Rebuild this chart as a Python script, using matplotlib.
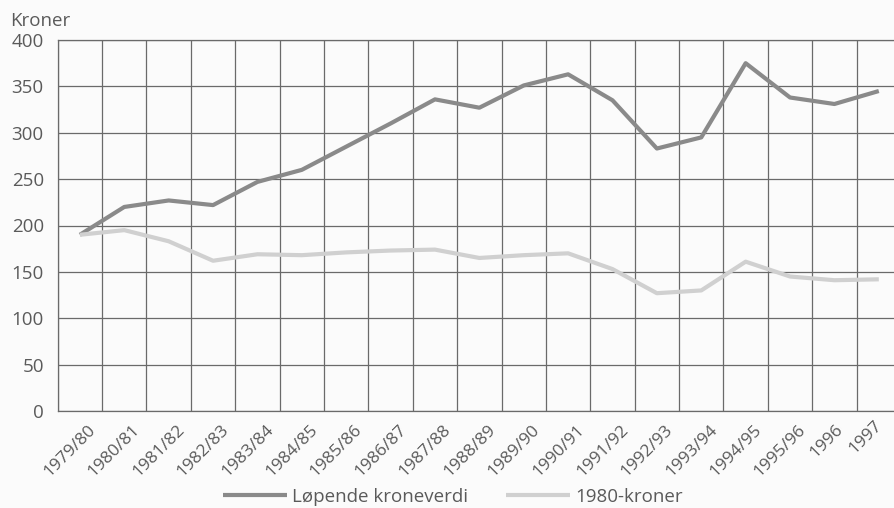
import matplotlib
matplotlib.use("Agg")
import matplotlib.pyplot as plt
import matplotlib.transforms as mtransforms

plt.rcParams['font.family'] = ['Open Sans', 'DejaVu Sans']

years = ['1979/80', '1980/81', '1981/82', '1982/83', '1983/84', '1984/85',
         '1985/86', '1986/87', '1987/88', '1988/89', '1989/90', '1990/91',
         '1991/92', '1992/93', '1993/94', '1994/95', '1995/96', '1996', '1997']
lopende = [190, 220, 227, 222, 247, 260, 285, 310, 336, 327, 351, 363,
           335, 283, 295, 375, 338, 331, 345]
kroner1980 = [190, 195, 183, 162, 169, 168, 171, 173, 174, 165, 168, 170,
              153, 127, 130, 161, 145, 141, 142]

fig = plt.figure(figsize=(8.95, 5.08), dpi=100, facecolor='#fbfbfb')
ax = fig.add_axes([57.7/895, 97/508, (901-57.7)/895, (411-40)/508])
ax.set_facecolor('#fbfbfb')

x = list(range(len(years)))
ax.plot(x, lopende, color='#8a8a8a', lw=3.0, solid_capstyle='butt',
        label='Løpende kroneverdi', zorder=3)
ax.plot(x, kroner1980, color='#d0d0d0', lw=3.0, solid_capstyle='butt',
        label='1980-kroner', zorder=3)

ax.set_xlim(-0.5, len(years) - 0.5)
ax.set_ylim(0, 400)
ax.set_yticks(range(0, 401, 50))
ax.set_xticks(x)
ax.set_xticks([i - 0.5 for i in range(len(years) + 1)], minor=True)
ax.grid(which='minor', axis='x', color='#6a6a6a', lw=0.9)
ax.grid(which='major', axis='y', color='#6a6a6a', lw=0.9)
ax.set_axisbelow(True)
for s in ax.spines.values():
    s.set_color('#6a6a6a')
    s.set_linewidth(0.9)
ax.spines['right'].set_visible(False)

ax.tick_params(axis='both', which='both', length=0)
ax.tick_params(axis='y', pad=10, labelsize=13.5, labelcolor='#5a5a5a')
ax.set_xticklabels(years, rotation=45, ha='right', va='top',
                   rotation_mode='anchor', fontsize=12.5, color='#5a5a5a')
# short labels at the right end sit a little further left in the original
for lbl in ax.get_xticklabels():
    dx, dy = 8, -6
    if lbl.get_text() == '1996':
        dx, dy = 1, -6
    elif lbl.get_text() == '1997':
        dx, dy = -5, -2
    off = mtransforms.ScaledTranslation(dx/100, dy/100, fig.dpi_scale_trans)
    lbl.set_transform(lbl.get_transform() + off)

fig.text(10/895, 1 - 21/508, 'Kroner', fontsize=13.5, color='#5a5a5a',
         va='center', ha='left')

fig.legend(loc='center', bbox_to_anchor=(453/895, 1 - 497/508), ncol=2,
           frameon=False, fontsize=13.5, handlelength=3.4, handletextpad=0.3,
           columnspacing=2.0, labelcolor='#5a5a5a')

fig.savefig('out.png', dpi=100, facecolor=fig.get_facecolor())
